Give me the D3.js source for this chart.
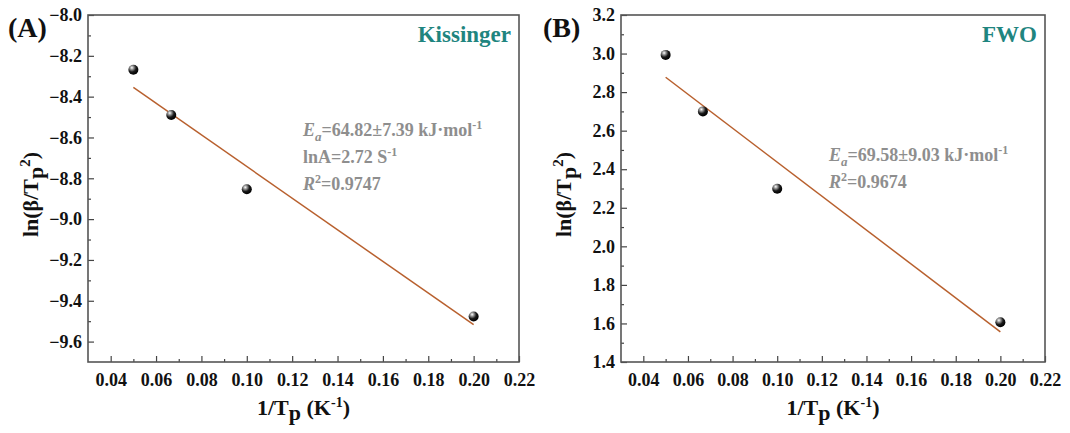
<!DOCTYPE html>
<html><head><meta charset="utf-8">
<script src="https://cdn.jsdelivr.net/npm/d3@7"></script>
<style>body{margin:0;background:#fff}svg{display:block}text{font-family:"Liberation Serif","Times New Roman",serif;font-weight:bold}</style>
</head><body><svg id="c" width="1070" height="433"></svg>
<script>
const invTp = [0.05, 0.0667, 0.1, 0.2];
const kissingerY = [-8.268, -8.49, -8.854, -9.477];
const kissingerFit = [-8.355, -9.517];
const fwoY = [2.993, 2.70, 2.299, 1.606];
const fwoFit = [2.877, 1.556];
const xTicks = [0.04, 0.06, 0.08, 0.10, 0.12, 0.14, 0.16, 0.18, 0.20, 0.22];
const yTicksA = [-8.0, -8.2, -8.4, -8.6, -8.8, -9.0, -9.2, -9.4, -9.6];
const yTicksB = [1.4, 1.6, 1.8, 2.0, 2.2, 2.4, 2.6, 2.8, 3.0, 3.2];

const svg = d3.select("#c");
const defs = svg.append("defs");
const g = defs.append("radialGradient").attr("id","ball").attr("cx","35%").attr("cy","30%").attr("r","70%");
g.append("stop").attr("offset","0%").attr("stop-color","#ffffff");
g.append("stop").attr("offset","25%").attr("stop-color","#9a9a9a");
g.append("stop").attr("offset","60%").attr("stop-color","#1a1a1a");
g.append("stop").attr("offset","100%").attr("stop-color","#000");

function panel(o){
  const x = d3.scaleLinear().domain([0.03,0.22]).range([o.left,o.right]);
  const y = d3.scaleLinear().domain(o.ydom).range([o.bottom,15]);
  const root = svg.append("g");
  const xMinor = xTicks.map(v=>v-0.01).concat([0.23]).filter(v=>v>0.03&&v<0.22);
  const xAxis = d3.axisBottom(x).tickValues(xTicks).tickSize(-6).tickPadding(11).tickFormat(d3.format(".2f"));
  const gx = root.append("g").attr("transform",`translate(0,${o.bottom})`).call(xAxis);
  gx.append("g").call(d3.axisBottom(x).tickValues(xMinor).tickSize(-3).tickFormat(""));
  const yAxis = d3.axisLeft(y).tickValues(o.yticks).tickSize(-6).tickPadding(6).tickFormat(d3.format(".1f"));
  const gy = root.append("g").attr("transform",`translate(${o.left},0)`).call(yAxis);
  const yMinor = o.yticks.map(v=>v+0.1).filter(v=>v>Math.min(...o.ydom)+1e-6&&v<Math.max(...o.ydom)-1e-6);
  gy.append("g").call(d3.axisLeft(y).tickValues(yMinor).tickSize(-3).tickFormat(""));
  root.selectAll(".domain").remove();
  root.selectAll(".tick line").attr("stroke","#444").attr("stroke-width",1.2);
  root.selectAll(".tick text").attr("font-size",18).attr("fill","#111").style("font-family","Liberation Serif").style("font-weight","bold");
  root.append("rect").attr("x",o.left).attr("y",15).attr("width",o.right-o.left).attr("height",o.bottom-15)
    .attr("fill","none").attr("stroke","#555").attr("stroke-width",1.6);
  root.append("line").attr("x1",x(invTp[0])).attr("y1",y(o.fit[0])).attr("x2",x(invTp[3])).attr("y2",y(o.fit[1]))
    .attr("stroke","#b8602e").attr("stroke-width",1.5);
  root.selectAll("circle.p").data(invTp.map((v,i)=>[v,o.vals[i]])).join("circle")
    .attr("cx",d=>x(d[0])).attr("cy",d=>y(d[1])).attr("r",5).attr("fill","url(#ball)");
  root.append("text").attr("x",o.labelX).attr("y",37).attr("font-size",28).attr("fill","#111").text(o.label);
  root.append("text").attr("x",o.right-8).attr("y",42).attr("text-anchor","end").attr("font-size",23).attr("fill","#1f857f").text(o.method);
  const yt = root.append("text").attr("transform",`translate(${o.left-50},${(15+o.bottom)/2+6}) rotate(-90)`)
    .attr("text-anchor","middle").attr("font-size",22).attr("fill","#111");
  yt.append("tspan").text("ln(β/T");
  yt.append("tspan").attr("dy",5).text("p");
  yt.append("tspan").attr("dy",-13).attr("font-size",15).text("2");
  yt.append("tspan").attr("dy",8).text(")");
  const xt = root.append("text").attr("x",(o.left+o.right)/2).attr("y",415).attr("text-anchor","middle").attr("font-size",22).attr("fill","#111");
  xt.append("tspan").text("1/T");
  xt.append("tspan").attr("dy",5).text("p");
  xt.append("tspan").attr("dy",-5).text(" (K");
  xt.append("tspan").attr("dy",-8).attr("font-size",14).text("-1");
  xt.append("tspan").attr("dy",8).text(")");
  o.notes.forEach((n,i)=>{
    const t = root.append("text").attr("x",o.noteX).attr("y",o.noteY+i*27).attr("font-size",18).attr("fill","#8e8e8e");
    n.forEach(s=>{
      const sp = t.append("tspan").text(s.t);
      if(s.it) sp.attr("font-style","italic");
      if(s.dy) sp.attr("dy",s.dy);
      if(s.fs) sp.attr("font-size",s.fs);
    });
  });
}

panel({left:88,right:519,bottom:362,ydom:[-9.7,-8.0],yticks:yTicksA,vals:kissingerY,fit:kissingerFit,
  label:"(A)",labelX:8,method:"Kissinger",noteX:303,noteY:136,
  notes:[
    [{t:"E",it:true},{t:"a",it:true,dy:5,fs:13},{t:"=64.82±7.39 kJ·mol",dy:-5},{t:"-1",dy:-7,fs:12}],
    [{t:"lnA=2.72 S"},{t:"-1",dy:-7,fs:12}],
    [{t:"R",it:true},{t:"2",dy:-7,fs:12},{t:"=0.9747",dy:7}]
  ]});
panel({left:621,right:1045,bottom:362,ydom:[1.4,3.2],yticks:yTicksB,vals:fwoY,fit:fwoFit,
  label:"(B)",labelX:543,method:"FWO",noteX:829,noteY:161,
  notes:[
    [{t:"E",it:true},{t:"a",it:true,dy:5,fs:13},{t:"=69.58±9.03 kJ·mol",dy:-5},{t:"-1",dy:-7,fs:12}],
    [{t:"R",it:true},{t:"2",dy:-7,fs:12},{t:"=0.9674",dy:7}]
  ]});
</script></body></html>
